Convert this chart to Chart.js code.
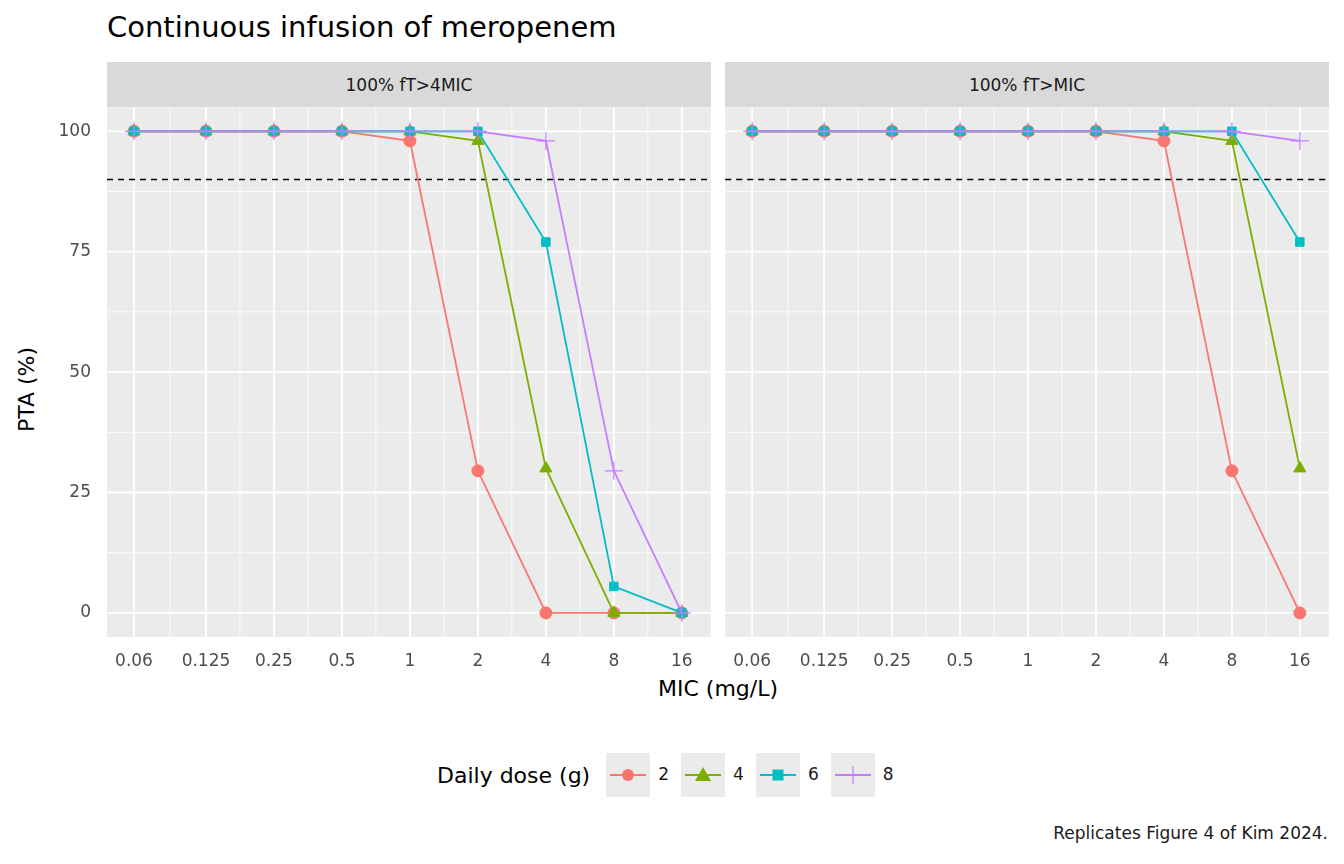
<!DOCTYPE html>
<html><head><meta charset="utf-8">
<script src="https://cdn.jsdelivr.net/npm/chart.js@4/dist/chart.umd.min.js"></script>
<style>
body{margin:0;width:1344px;height:864px;background:#fff;font-family:"DejaVu Sans",sans-serif;position:relative;overflow:hidden}
.t{position:absolute;color:#000;white-space:nowrap}
.strip{position:absolute;top:62px;height:45px;background:#D9D9D9;color:#1A1A1A;font-size:17px;display:flex;align-items:center;justify-content:center}
canvas{position:absolute}
.key{display:inline-block;width:44px;height:44px;background:#EBEBEB;vertical-align:middle;margin-right:8px}
.li{display:inline-block;margin-right:12px;font-size:17px;color:#1A1A1A}
</style></head><body>
<div class="t" style="left:107px;top:10px;font-size:29px">Continuous infusion of meropenem</div>
<div class="strip" style="left:107px;width:604px">100% fT&gt;4MIC</div>
<div class="strip" style="left:725px;width:604px">100% fT&gt;MIC</div>
<div class="t" style="left:14px;font-size:22px;transform:rotate(-90deg);transform-origin:left top;top:432px">PTA (%)</div>
<div class="t" style="left:0;width:1436px;text-align:center;top:676px;font-size:22px">MIC (mg/L)</div>
<div class="t" id="legend" style="left:437px;top:753px;font-size:22px;display:flex;align-items:center"><span style="margin-right:16px">Daily dose (g)</span></div>
<div class="t" style="right:16px;top:823px;font-size:17px;color:#1A1A1A">Replicates Figure 4 of Kim 2024.</div>
<canvas id="c1"></canvas>
<canvas id="c2"></canvas>
<script>
const mic = [0.06, 0.125, 0.25, 0.5, 1, 2, 4, 8, 16];
const micLabels = ["0.06", "0.125", "0.25", "0.5", "1", "2", "4", "8", "16"];
const doses = ["2", "4", "6", "8"];
const colors = ["#F8766D", "#7CAE00", "#00BFC4", "#C77CFF"];
const shapes = ["circle", "triangle", "rect", "cross"];
const yTicks = [0, 25, 50, 75, 100];
const target = 90;
// 100% fT>4MIC
const pta4mic = [
  [100, 100, 100, 100, 98, 29.5, 0, 0, 0],
  [100, 100, 100, 100, 100, 98, 30, 0, 0],
  [100, 100, 100, 100, 100, 100, 77, 5.5, 0],
  [100, 100, 100, 100, 100, 100, 98, 29.5, 0]
];
// 100% fT>MIC
const ptaMic = [
  [100, 100, 100, 100, 100, 100, 98, 29.5, 0],
  [100, 100, 100, 100, 100, 100, 100, 98, 30],
  [100, 100, 100, 100, 100, 100, 100, 100, 77],
  [100, 100, 100, 100, 100, 100, 100, 100, 98]
];

const minorX = mic.slice(0, -1).map((v, i) => Math.sqrt(v * mic[i + 1]));
const minorY = [-12.5, 12.5, 37.5, 62.5, 87.5];

const bgPlugin = {
  id: "bg",
  beforeDraw(ch) {
    const a = ch.chartArea, c = ch.ctx, xs = ch.scales.x, ys = ch.scales.y;
    c.save();
    c.fillStyle = "#EBEBEB";
    c.fillRect(a.left, a.top, a.width, a.height);
    c.beginPath(); c.rect(a.left, a.top, a.width, a.height); c.clip();
    c.strokeStyle = "#fff";
    c.lineWidth = 0.8;
    minorX.forEach(v => { const p = xs.getPixelForValue(v); c.beginPath(); c.moveTo(p, a.top); c.lineTo(p, a.bottom); c.stroke(); });
    minorY.forEach(v => { const p = ys.getPixelForValue(v); c.beginPath(); c.moveTo(a.left, p); c.lineTo(a.right, p); c.stroke(); });
    c.lineWidth = 1.8;
    mic.forEach(v => { const p = xs.getPixelForValue(v); c.beginPath(); c.moveTo(p, a.top); c.lineTo(p, a.bottom); c.stroke(); });
    yTicks.forEach(v => { const p = ys.getPixelForValue(v); c.beginPath(); c.moveTo(a.left, p); c.lineTo(a.right, p); c.stroke(); });
    c.restore();
  },
  beforeDatasetsDraw(ch) {
    const a = ch.chartArea, c = ch.ctx, p = ch.scales.y.getPixelForValue(target);
    c.save();
    c.strokeStyle = "#000"; c.lineWidth = 1.6; c.setLineDash([6, 5]);
    c.beginPath(); c.moveTo(a.left, p); c.lineTo(a.right, p); c.stroke();
    c.restore();
  }
};

function makeChart(id, data, showY) {
  return new Chart(document.getElementById(id), {
    type: "line",
    data: {
      datasets: doses.map((d, i) => ({
        label: d,
        order: 3 - i,
        data: mic.map((m, j) => ({ x: m, y: data[i][j] })),
        borderColor: colors[i],
        backgroundColor: colors[i],
        borderWidth: 1.8,
        pointStyle: shapes[i],
        pointRadius: shapes[i] === "cross" ? 9 : (shapes[i] === "triangle" ? 7 : 6),
        pointBorderWidth: shapes[i] === "cross" ? 1.2 : 1
      }))
    },
    options: {
      responsive: false,
      animation: false,
      devicePixelRatio: 1,
      layout: { padding: 0 },
      plugins: { legend: { display: false }, tooltip: { enabled: false } },
      scales: {
        x: {
          type: "logarithmic",
          min: Math.pow(2, -4.456),
          max: Math.pow(2, 4.426),
          afterBuildTicks: s => { s.ticks = mic.map(v => ({ value: v })); },
          afterFit: s => { s.height = 43; },
          grid: { display: false },
          border: { display: false },
          ticks: {
            autoSkip: false, maxRotation: 0, padding: 6,
            color: "#4D4D4D", font: { size: 17, family: "DejaVu Sans" },
            callback: (v) => micLabels[mic.indexOf(v)] ?? ""
          }
        },
        y: {
          min: -5, max: 105,
          afterBuildTicks: s => { s.ticks = yTicks.map(v => ({ value: v })); },
          afterFit: s => { s.width = showY ? 107 : 0; },
          grid: { display: false },
          border: { display: false },
          ticks: {
            display: showY, padding: 8,
            color: "#4D4D4D", font: { size: 17, family: "DejaVu Sans" }
          }
        }
      }
    },
    plugins: [bgPlugin]
  });
}

// place each chart so its plot area lands on the panel rectangle
function placeChart(id, data, showY, left, right) {
  const cv = document.getElementById(id);
  const top = 107, bottom = 637;
  let x0 = showY ? 0 : left, w = right - x0, y0 = top, h = bottom - top + 43;
  cv.width = w; cv.height = h;
  cv.style.left = x0 + "px"; cv.style.top = y0 + "px";
  cv.style.width = w + "px"; cv.style.height = h + "px";
  let ch = makeChart(id, data, showY);
  const a = ch.chartArea;
  const dTop = a.top, dRight = w - a.right, dLeft = showY ? 0 : a.left;
  ch.destroy();
  x0 -= dLeft; w += dLeft + dRight; y0 -= dTop; h += dTop;
  cv.width = w; cv.height = h;
  cv.style.left = x0 + "px"; cv.style.top = y0 + "px";
  cv.style.width = w + "px"; cv.style.height = h + "px";
  makeChart(id, data, showY);
}
placeChart("c1", pta4mic, true, 107, 711);
placeChart("c2", ptaMic, false, 725, 1329);

// legend keys
const lg = document.getElementById("legend");
doses.forEach((d, i) => {
  const s = document.createElement("span");
  s.className = "li";
  const cv = document.createElement("canvas");
  cv.width = 44; cv.height = 44; cv.className = "key"; cv.style.position = "static";
  const c = cv.getContext("2d");
  c.fillStyle = "#EBEBEB"; c.fillRect(0, 0, 44, 44);
  c.strokeStyle = colors[i]; c.lineWidth = 1.8;
  c.beginPath(); c.moveTo(4, 22); c.lineTo(40, 22); c.stroke();
  c.fillStyle = colors[i];
  if (i === 0) { c.beginPath(); c.arc(22, 22, 6, 0, 7); c.fill(); }
  if (i === 1) { c.beginPath(); c.moveTo(22, 14); c.lineTo(30, 28); c.lineTo(14, 28); c.fill(); }
  if (i === 2) { c.fillRect(16.5, 16.5, 11, 11); }
  if (i === 3) { c.lineWidth = 1.2; c.beginPath(); c.moveTo(22, 13); c.lineTo(22, 31); c.moveTo(13, 22); c.lineTo(31, 22); c.stroke(); }
  s.appendChild(cv);
  s.appendChild(document.createTextNode(d));
  lg.appendChild(s);
});
</script>
</body></html>
